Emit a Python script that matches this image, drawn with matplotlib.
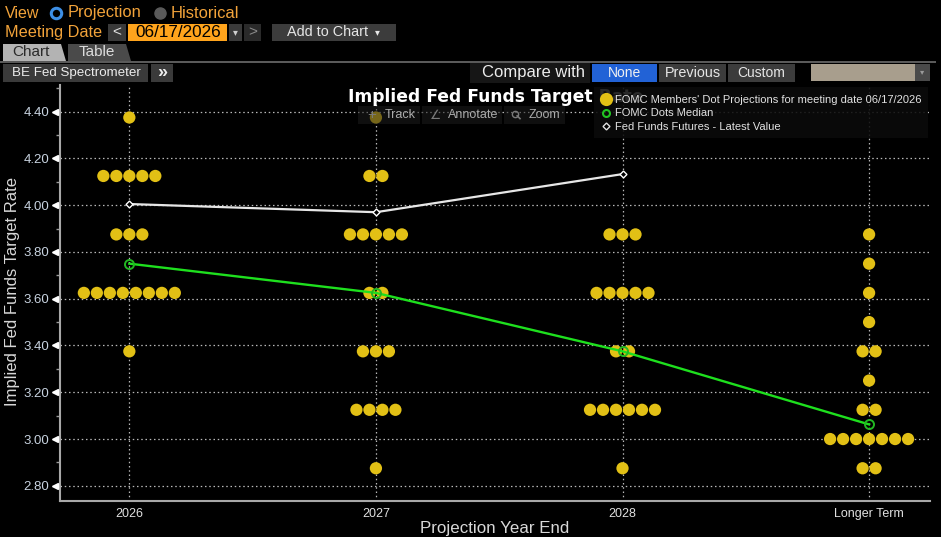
import numpy as np
import matplotlib
matplotlib.use("Agg")
import matplotlib.pyplot as plt
from matplotlib.patches import Rectangle, Polygon
import matplotlib.transforms as mtransforms

plt.rcParams["font.family"] = ["Liberation Sans", "DejaVu Sans"]

# ---------------- data ----------------
categories = ["2026", "2027", "2028", "Longer Term"]

rates_2026 = [4.375, 4.125, 3.875, 3.625, 3.375]
counts_2026 = [1, 5, 3, 8, 1]

rates_2027 = [4.375, 4.125, 3.875, 3.625, 3.375, 3.125, 2.875]
counts_2027 = [1, 2, 5, 2, 3, 4, 1]

rates_2028 = [3.875, 3.625, 3.375, 3.125, 2.875]
counts_2028 = [3, 5, 2, 6, 1]

rates_longer = [3.875, 3.75, 3.625, 3.5, 3.375, 3.25, 3.125, 3.0, 2.875]
counts_longer = [1, 1, 1, 1, 2, 1, 2, 7, 2]

dots_median = [3.75, 3.625, 3.375, 3.0625]
futures_latest = [4.005, 3.97, 4.133]

y_ticks = [2.80, 3.00, 3.20, 3.40, 3.60, 3.80, 4.00, 4.20, 4.40]
legend_labels = ["FOMC Members' Dot Projections for meeting date 06/17/2026",
                 "FOMC Dots Median",
                 "Fed Funds Futures - Latest Value"]

# ---------------- figure ----------------
W, H = 941, 537
fig = plt.figure(figsize=(W / 100, H / 100), dpi=100, facecolor="black")

ax = fig.add_axes([60.3 / W, 1 - 501 / H, (930 - 60.3) / W, (501 - 85) / H])
ax.set_facecolor("black")

DOT = "#e2c015"
spacing = 0.0527
dot_sets = [(rates_2026, counts_2026), (rates_2027, counts_2027),
            (rates_2028, counts_2028), (rates_longer, counts_longer)]
for i, (rates, counts) in enumerate(dot_sets):
    for r, n in zip(rates, counts):
        offs = (np.arange(n) - (n - 1) / 2) * spacing
        ax.scatter(i + offs, [r] * n, s=78, color=DOT, edgecolors="none", zorder=3)

xi = np.arange(len(categories))
ax.plot(xi, dots_median, color="#1ee01e", lw=1.7, marker="o", ms=6.5,
        mfc="none", mec="#22b822", mew=1.4, zorder=5)
ax.plot(xi[:len(futures_latest)], futures_latest, color="#e6e6e6", lw=1.6,
        marker="D", ms=3.5, mfc="black", mec="white", mew=1, zorder=5)

ax.set_xlim(-0.28, 3.247)
ax.set_ylim(2.735, 4.514)
ax.set_xticks(xi)
ax.set_xticklabels(categories)
ax.set_yticks(y_ticks)
ax.set_yticklabels([f"{v:.2f}" for v in y_ticks])
ax.set_yticks(np.arange(2.8, 4.55, 0.1), minor=True)

ax.grid(True, which="major", color="#b8b8b8", linestyle=(0, (1.2, 2.2)), lw=0.9)
for s in ["top", "right"]:
    ax.spines[s].set_visible(False)
for s in ["left", "bottom"]:
    ax.spines[s].set_color("#a8a8a8")
    ax.spines[s].set_linewidth(1.5)

ax.tick_params(axis="y", which="major", colors="white", labelcolor="#c8d3e0",
               labelsize=9.5, length=5, width=1, direction="out", pad=3)
ax.tick_params(axis="y", which="minor", colors="#9a9a9a", length=3, width=1)
ax.tick_params(axis="x", length=0, labelcolor="#e0e0e0", labelsize=9, pad=5)
trans = mtransforms.blended_transform_factory(ax.transAxes, ax.transData)
ax.plot([-0.006] * len(y_ticks), y_ticks, linestyle="none", marker="<", ms=4,
        color="white", transform=trans, clip_on=False, zorder=6)

# ---------------- overlay (UI chrome, pixel coordinates) ----------------
ov = fig.add_axes([0, 0, 1, 1], zorder=5)
ov.set_xlim(0, W)
ov.set_ylim(H, 0)
ov.axis("off")
ov.patch.set_alpha(0)

ORANGE = "#f2a33a"


def rect(x0, y0, x1, y1, color, alpha=1.0, z=1):
    ov.add_patch(Rectangle((x0, y0), x1 - x0, y1 - y0, facecolor=color,
                           edgecolor="none", alpha=alpha, zorder=z))


def txt(x, y, s, color="white", size=10, ha="left", weight="normal", z=3, **kw):
    ov.text(x, y, s, color=color, fontsize=size, ha=ha, va="center",
            fontweight=weight, zorder=z, **kw)


# axis titles
txt(12.5, 292, "Implied Fed Funds Target Rate", "#d8d8d8", 12, ha="center",
    rotation=90, rotation_mode="anchor")
txt(495, 528.5, "Projection Year End", "#d8d8d8", 12.2, ha="center")

# row 1
txt(5, 13, "View", ORANGE, 11.5)
ov.plot(56, 13, "o", ms=7.5, mfc="black", mec="#3d8fe6", mew=2.2)
txt(68, 13, "Projection", ORANGE, 11.9)
ov.plot(160, 13, "o", ms=8, color="#5a5a5a")
txt(171, 13, "Historical", ORANGE, 11.9)

# row 2
txt(5, 32, "Meeting Date", ORANGE, 11.7)
rect(108, 24, 126, 41, "#3a3a3a")
txt(117, 32, "<", "#e0e0e0", 11, ha="center")
rect(128, 24, 227, 41, "#ffa41c")
txt(178, 32.5, "06/17/2026", "black", 12.3, ha="center")
rect(229, 24, 242, 41, "#3a3a3a")
txt(235.5, 32, "▾", "#d0d0d0", 7, ha="center")
rect(244, 24, 261, 41, "#2a2a2a")
txt(252.5, 32, ">", "#8a8a8a", 11, ha="center")
rect(272, 24, 396, 41, "#3c3c3c")
txt(287, 32.5, "Add to Chart", "#e6e6e6", 10.4)
txt(377, 32.5, "▾", "#e6e6e6", 7, ha="center")

# tabs
ov.add_patch(Polygon([(3, 61), (3, 44), (61, 44), (66, 61)], closed=True,
                     facecolor="#b3b3b3", edgecolor="none"))
txt(31, 52.5, "Chart", "#2a2a2a", 11, ha="center")
ov.add_patch(Polygon([(68, 61), (68, 44), (126, 44), (131, 61)], closed=True,
                     facecolor="#4a4a4a", edgecolor="none"))
txt(97, 52.5, "Table", "#dcdcdc", 11, ha="center")
rect(0, 61, 936, 63, "#5a5a5a")

# row 3
rect(3, 64, 148, 82, "#3a3a3a")
txt(76, 73, "BE Fed Spectrometer", "#ececec", 9.6, ha="center")
rect(151, 64, 173, 82, "#3a3a3a")
txt(162, 72.5, "»", "#ececec", 13, ha="center", weight="bold")
rect(470, 63, 590, 83, "#161616")
txt(585, 73, "Compare with", "#ececec", 12, ha="right")
rect(592, 64, 657, 82, "#2262d6")
txt(624.5, 73, "None", "#f0f0f0", 10, ha="center")
rect(659, 64, 726, 82, "#3c3c3c")
txt(692.5, 73, "Previous", "#e6e6e6", 10.4, ha="center")
rect(728, 64, 795, 82, "#3c3c3c")
txt(761.5, 73, "Custom", "#e6e6e6", 10, ha="center")
rect(811, 64, 915, 81, "#a89e8d")
rect(915, 64, 930, 81, "#4a4a4a")
txt(922.5, 72.5, "▾", "#9a9a9a", 6, ha="center")

# chart title and tool buttons
txt(348, 97.5, "Implied Fed Funds Target Rate", "white", 12.3, weight="bold", z=3,
    family=["DejaVu Sans"])
for x0, x1 in [(358, 420), (422, 502), (504, 565)]:
    rect(x0, 106, x1, 124, "#1d1d1d", alpha=0.55, z=2)
txt(372, 115, "+", "#7a7a7a", 11, ha="center", z=3)
txt(385, 115.5, "Track", "#ababab", 9, z=3)
txt(436, 115.5, "∠", "#7a7a7a", 9, ha="center", z=3, family=["DejaVu Sans"])
txt(448, 115.5, "Annotate", "#ababab", 9, z=3)
ov.plot(515, 113.5, "o", ms=4.5, mfc="none", mec="#7a7a7a", mew=1, zorder=3)
ov.plot([517.2, 520], [115.8, 118.6], color="#7a7a7a", lw=1.2, zorder=3)
txt(529, 115.5, "Zoom", "#ababab", 9, z=3)

# legend
rect(594, 87, 928, 138, "#0b0b0b", alpha=0.88, z=4)
ov.plot(606, 99, "o", ms=9.5, color=DOT, mec="none", zorder=5)
txt(615, 100, legend_labels[0], "#e2e2e2", 8, z=6)
ov.plot(606, 113, "o", ms=5, mfc="none", mec="#22c322", mew=1.5, zorder=5)
txt(615, 113.5, legend_labels[1], "#e2e2e2", 8, z=6)
ov.plot(606, 126, "D", ms=3.5, mfc="black", mec="#e0e0e0", mew=1, zorder=5)
txt(615, 126.5, legend_labels[2], "#e2e2e2", 8, z=6)

fig.savefig("out.png", dpi=100, facecolor="black")
